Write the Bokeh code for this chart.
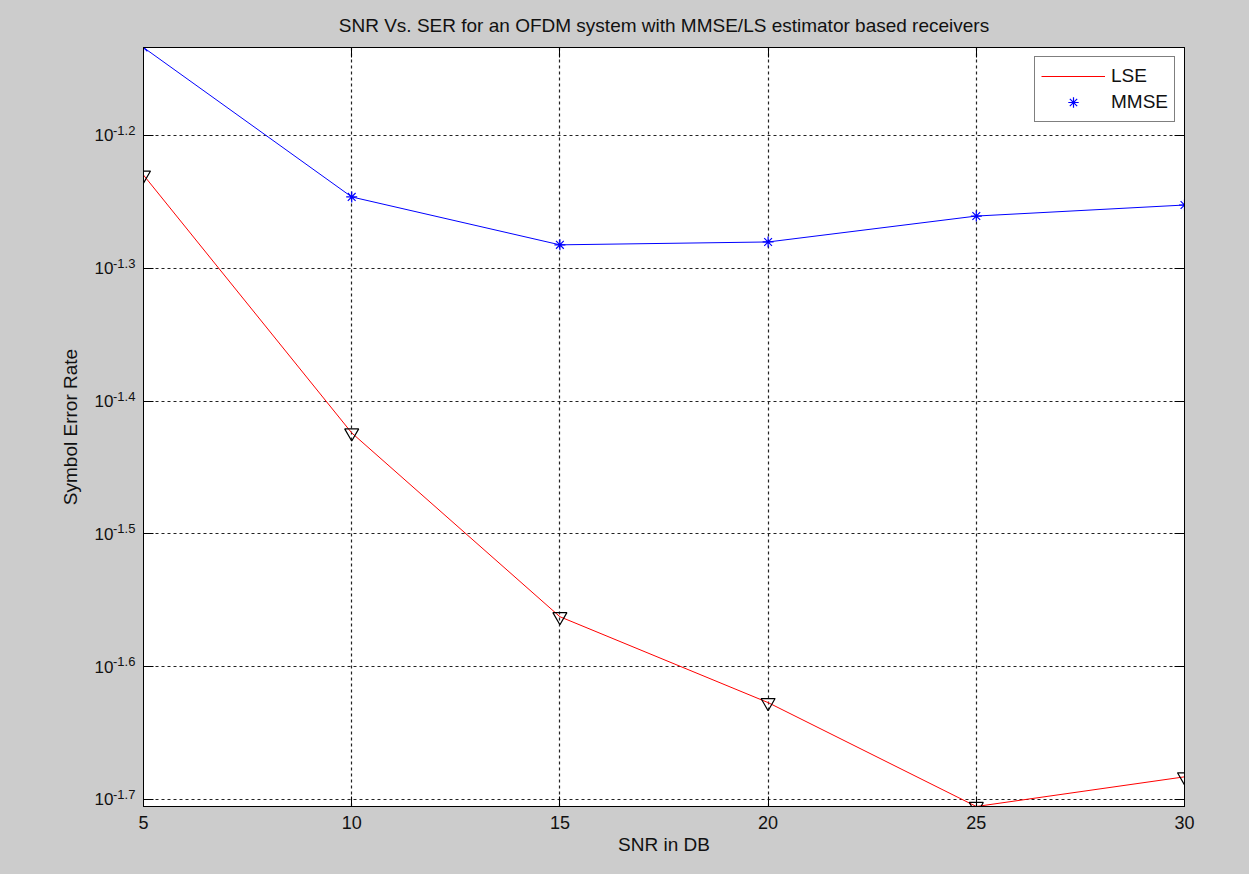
import math
from bokeh.plotting import figure
from bokeh.layouts import row
from bokeh.models import (FixedTicker, LogAxis, LinearAxis, Legend, LegendItem,
                          ColumnDataSource)
from bokeh.core.properties import value
from bokeh.embed import file_html
from bokeh.resources import INLINE

# ---------------- data ----------------
snr_db = [5, 10, 15, 20, 25, 30]
ser_lse = [0.05890, 0.03767, 0.02739, 0.02360, 0.01971, 0.02075]
ser_mmse = [0.07348, 0.05671, 0.05219, 0.05245, 0.05486, 0.05592]

x_ticks = [5, 10, 15, 20, 25, 30]
y_tick_exponents = [-1.7, -1.6, -1.5, -1.4, -1.3, -1.2]
y_tick_base = "10"
y_tick_sup = ["-1.7", "-1.6", "-1.5", "-1.4", "-1.3", "-1.2"]

title_text = "SNR Vs. SER for an OFDM system with MMSE/LS estimator based receivers"
x_label = "SNR in DB"
y_label = "Symbol Error Rate"
series_names = ["LSE", "MMSE"]

FONT = "Liberation Sans"
TXT = "#111111"
BG = "#cccccc"

# layout sizes (px)
TOTAL_W, H = 1249, 874
LEFT_W = 137          # strip holding the y tick labels and y title
TOP, BOTTOM, RIGHT, P_LEFT = 47, 68, 65, 6

all_vals = ser_lse + ser_mmse
y_tick_vals = [10 ** e for e in y_tick_exponents]

# ---------------- main plot ----------------
p = figure(width=TOTAL_W - LEFT_W, height=H, y_axis_type="log",
           x_range=(min(snr_db), max(snr_db)), y_range=(min(all_vals), max(all_vals)),
           output_backend="svg", toolbar_location=None,
           background_fill_color="white", border_fill_color=BG,
           min_border_left=P_LEFT, min_border_right=RIGHT, min_border_top=TOP,
           min_border_bottom=BOTTOM)

p.title.text = title_text
p.title.align = "center"
p.title.text_font = FONT
p.title.text_font_style = "normal"
p.title.text_font_size = "19px"
p.title.text_color = TXT
p.title.standoff = 24

p.outline_line_color = "black"
p.outline_line_width = 1

xa = p.xaxis[0]
xa.ticker = FixedTicker(ticks=x_ticks)
xa.major_tick_in = 10
xa.major_tick_out = 0
xa.minor_tick_line_color = None
xa.axis_line_color = "black"
xa.major_tick_line_color = "black"
xa.major_label_text_font = FONT
xa.major_label_text_font_size = "18px"
xa.major_label_text_color = TXT
xa.major_label_standoff = 9
xa.axis_label = x_label
xa.axis_label_text_font = FONT
xa.axis_label_text_font_style = "normal"
xa.axis_label_text_font_size = "19px"
xa.axis_label_text_color = TXT
xa.axis_label_standoff = 2

ya = p.yaxis[0]
ya.ticker = FixedTicker(ticks=y_tick_vals)
ya.major_tick_in = 10
ya.major_tick_out = 0
ya.minor_tick_line_color = None
ya.axis_line_color = "black"
ya.major_tick_line_color = "black"
ya.major_label_overrides = {v: "" for v in y_tick_vals}
ya.major_label_text_font_size = "0px"
ya.major_label_standoff = 0

ra = LogAxis(ticker=FixedTicker(ticks=y_tick_vals), major_tick_in=10, major_tick_out=0,
             minor_tick_line_color=None, major_label_text_font_size="0px",
             major_label_overrides={v: "" for v in y_tick_vals}, major_label_standoff=0,
             axis_line_color="black")
p.add_layout(ra, "right")
ta = LinearAxis(ticker=FixedTicker(ticks=x_ticks), major_tick_in=10, major_tick_out=0,
                minor_tick_line_color=None, major_label_text_font_size="0px",
                major_label_overrides={v: "" for v in x_ticks}, major_label_standoff=0,
                axis_line_color="black")
p.add_layout(ta, "above")

for g in (p.xgrid[0], p.ygrid[0]):
    g.grid_line_color = "#222222"
    g.grid_line_dash = "3 3"
    g.grid_line_width = 1.2
    g.minor_grid_line_color = None
p.xgrid[0].ticker = FixedTicker(ticks=x_ticks)
p.ygrid[0].ticker = FixedTicker(ticks=y_tick_vals)

src = ColumnDataSource(dict(x=snr_db, lse=ser_lse, mmse=ser_mmse))
r_lse = p.line("x", "lse", source=src, line_color="#ff0000", line_width=1)
p.scatter("x", "lse", source=src, marker="inverted_triangle", size=14,
          fill_color=None, line_color="black", line_width=1.2)
p.line("x", "mmse", source=src, line_color="#0000ff", line_width=1)
r_mmse = p.scatter("x", "mmse", source=src, marker="asterisk", size=11,
                   line_color="#0000ff", line_width=1.2)

legend = Legend(items=[LegendItem(label=series_names[0], renderers=[r_lse]),
                       LegendItem(label=series_names[1], renderers=[r_mmse])],
                location="top_right", margin=9, padding=6, spacing=0,
                label_height=26, glyph_height=26, glyph_width=64, label_standoff=6,
                label_text_font=FONT, label_text_font_size="19px",
                label_text_color=TXT,
                border_line_color="black", border_line_width=1,
                background_fill_color="white", background_fill_alpha=1)
p.add_layout(legend, "center")

# ---------------- left strip: y tick labels (10^exp) and y-axis title ----------------
# shares the main y range; the row layout aligns its frame with the main frame
lf = figure(width=LEFT_W, height=H, y_axis_type="log",
            x_range=(0, 1), y_range=p.y_range,
            output_backend="svg", toolbar_location=None,
            x_axis_location=None, y_axis_location=None,
            min_border_left=0, min_border_right=0, min_border_top=TOP, min_border_bottom=BOTTOM,
            background_fill_color=BG, border_fill_color=BG, outline_line_color=None)
lf.grid.visible = False

n = len(y_tick_vals)
lab_src = ColumnDataSource(dict(x=[1] * n, y=y_tick_vals, base=[y_tick_base] * n, sup=y_tick_sup))
lf.text("x", "y", text="base", source=lab_src, x_offset=-24,
        text_align="right", text_baseline="middle",
        text_font=value(FONT), text_font_size="17px", text_color=TXT)
lf.text("x", "y", text="sup", source=lab_src, x_offset=-24.5, y_offset=-5,
        text_align="left", text_baseline="alphabetic",
        text_font=value(FONT), text_font_size="13px", text_color=TXT)
lf.text(x=[1], y=[math.sqrt(min(all_vals) * max(all_vals))], text=[y_label],
        x_offset=-67.5, angle=math.pi / 2,
        text_align="center", text_baseline="middle",
        text_font=value(FONT), text_font_size="19px", text_color=TXT)

layout = row(lf, p, spacing=0)
layout.styles = {"background-color": BG}
open("out.html", "w").write(file_html(layout, INLINE))
